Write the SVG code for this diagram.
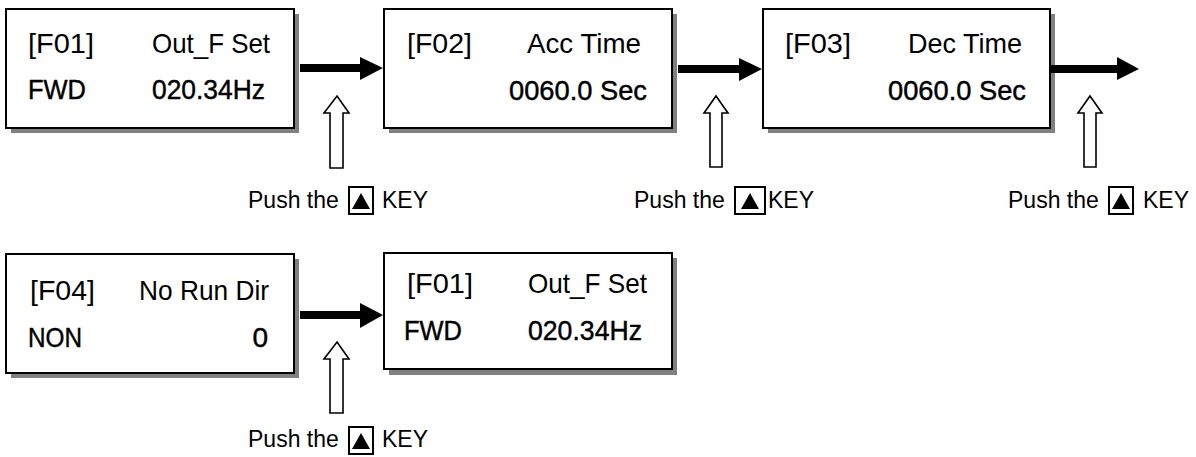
<svg xmlns="http://www.w3.org/2000/svg" width="1196" height="457" viewBox="0 0 1196 457">
<style>
.shadow{fill:#808080}
.box{fill:#fff;stroke:#000;stroke-width:2}
.t1{font-family:"Liberation Sans",Arial,sans-serif;font-size:28px;fill:#000}
.t2{font-family:"Liberation Sans",Arial,sans-serif;font-size:28px;fill:#000;stroke:#000;stroke-width:0.45}
.push{font-family:"Liberation Sans",Arial,sans-serif;font-size:23px;fill:#000}
.shaft{stroke:#000;stroke-width:8;fill:none}
.head{fill:#000}
.hollow{fill:#fff;stroke:#000;stroke-width:1.6}
.key{fill:#fff;stroke:#000;stroke-width:2}
.tri{fill:#000}
</style>
<g id="node-f01-top">
<rect class="shadow" x="11" y="14" width="288" height="119"/>
<rect class="box" x="6" y="9" width="288" height="119"/>
<text class="t1" x="28" y="53" textLength="66" lengthAdjust="spacingAndGlyphs">[F01]</text>
<text class="t1" x="152" y="53" textLength="118" lengthAdjust="spacingAndGlyphs">Out_F Set</text>
<text class="t2" x="28" y="99" textLength="58" lengthAdjust="spacingAndGlyphs">FWD</text>
<text class="t2" x="152" y="99" textLength="113" lengthAdjust="spacingAndGlyphs">020.34Hz</text>
</g>
<g id="node-f02">
<rect class="shadow" x="389" y="14" width="288" height="119"/>
<rect class="box" x="384" y="9" width="288" height="119"/>
<text class="t1" x="407" y="53" textLength="65" lengthAdjust="spacingAndGlyphs">[F02]</text>
<text class="t1" x="527" y="53" textLength="114" lengthAdjust="spacingAndGlyphs">Acc Time</text>
<text class="t2" x="509" y="100" textLength="138" lengthAdjust="spacingAndGlyphs">0060.0 Sec</text>
</g>
<g id="node-f03">
<rect class="shadow" x="768" y="14" width="287" height="119"/>
<rect class="box" x="763" y="9" width="287" height="119"/>
<text class="t1" x="785" y="53" textLength="66" lengthAdjust="spacingAndGlyphs">[F03]</text>
<text class="t1" x="908" y="53" textLength="114" lengthAdjust="spacingAndGlyphs">Dec Time</text>
<text class="t2" x="888" y="100" textLength="138" lengthAdjust="spacingAndGlyphs">0060.0 Sec</text>
</g>
<g id="node-f04">
<rect class="shadow" x="11" y="259" width="288" height="119"/>
<rect class="box" x="6" y="254" width="288" height="119"/>
<text class="t1" x="30" y="300" textLength="65" lengthAdjust="spacingAndGlyphs">[F04]</text>
<text class="t1" x="139" y="300" textLength="130" lengthAdjust="spacingAndGlyphs">No Run Dir</text>
<text class="t2" x="28" y="347" textLength="54" lengthAdjust="spacingAndGlyphs">NON</text>
<text class="t2" x="268" y="347" text-anchor="end">0</text>
</g>
<g id="node-f01-bottom">
<rect class="shadow" x="389" y="258" width="288" height="117"/>
<rect class="box" x="384" y="253" width="288" height="116"/>
<text class="t1" x="407" y="293" textLength="66" lengthAdjust="spacingAndGlyphs">[F01]</text>
<text class="t1" x="528" y="293" textLength="119" lengthAdjust="spacingAndGlyphs">Out_F Set</text>
<text class="t2" x="404" y="340" textLength="58" lengthAdjust="spacingAndGlyphs">FWD</text>
<text class="t2" x="528" y="340" textLength="114" lengthAdjust="spacingAndGlyphs">020.34Hz</text>
</g>
<g id="connectors">
<line class="shaft" x1="300" y1="68" x2="362" y2="68"/>
<polygon class="head" points="360,57 383,68 360,80"/>
<line class="shaft" x1="678" y1="69" x2="741" y2="69"/>
<polygon class="head" points="739,58 762,69 739,81"/>
<line class="shaft" x1="1051" y1="69" x2="1119" y2="69"/>
<polygon class="head" points="1117,57 1139,69 1117,80"/>
<line class="shaft" x1="300" y1="315" x2="362" y2="315"/>
<polygon class="head" points="360,303 383,315 360,328"/>
<polygon class="hollow" points="337,96 349,113 343,113 343,168 330,168 330,113 324,113"/>
<polygon class="hollow" points="716,96 728,113 722,113 722,167 710,167 710,113 704,113"/>
<polygon class="hollow" points="1090,96 1102,113 1096,113 1096,167 1084,167 1084,113 1078,113"/>
<polygon class="hollow" points="337,342 349,359 343,359 343,413 330,413 330,359 324,359"/>
</g>
<g id="label-push-1">
<text class="push" x="248" y="208">Push the</text>
<rect class="key" x="349" y="187" width="24" height="27"/>
<polygon class="tri" points="361,193 370,209 352,209"/>
<text class="push" x="382" y="208">KEY</text>
</g>
<g id="label-push-2">
<text class="push" x="634" y="208">Push the</text>
<rect class="key" x="735" y="187" width="30" height="27"/>
<polygon class="tri" points="750,193 759,209 741,209"/>
<text class="push" x="768" y="208">KEY</text>
</g>
<g id="label-push-3">
<text class="push" x="1008" y="208">Push the</text>
<rect class="key" x="1109" y="187" width="24" height="27"/>
<polygon class="tri" points="1121,193 1130,209 1112,209"/>
<text class="push" x="1143" y="208">KEY</text>
</g>
<g id="label-push-4">
<text class="push" x="248" y="447">Push the</text>
<rect class="key" x="349" y="427" width="24" height="27"/>
<polygon class="tri" points="361,433 370,449 352,449"/>
<text class="push" x="382" y="447">KEY</text>
</g>
</svg>
